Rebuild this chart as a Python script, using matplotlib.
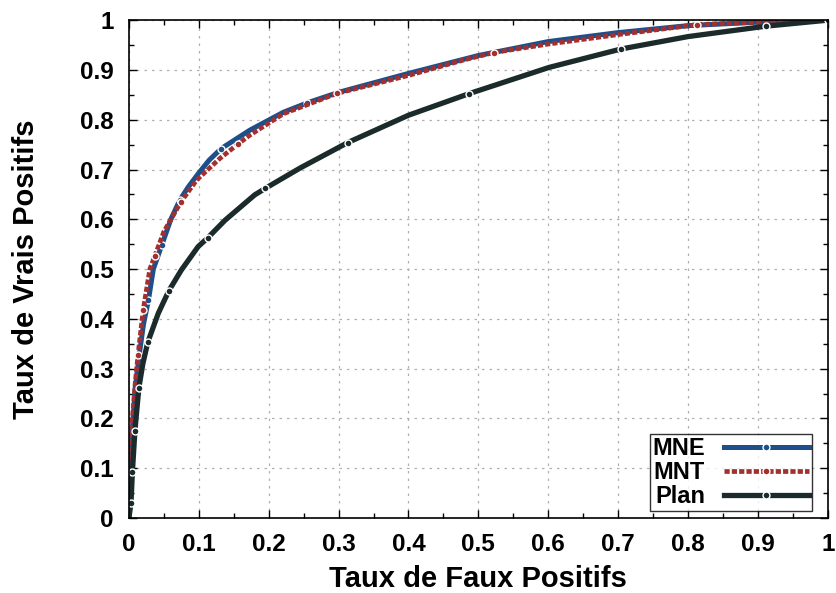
import matplotlib
matplotlib.use("Agg")
import matplotlib.pyplot as plt
from matplotlib.ticker import MultipleLocator

plt.rcParams['font.family'] = ['Liberation Sans', 'DejaVu Sans']
plt.rcParams['font.weight'] = 'bold'

# courbes ROC
mne_fpr = [0, 0.002, 0.005, 0.009, 0.015, 0.021, 0.028, 0.035, 0.047, 0.06, 0.073, 0.085,
           0.1, 0.115, 0.132, 0.173, 0.221, 0.2555, 0.3, 0.4, 0.5, 0.6, 0.7, 0.8, 0.9, 1.0]
mne_tpr = [0, 0.09, 0.18, 0.26, 0.33, 0.39, 0.438, 0.5, 0.548, 0.6, 0.639, 0.665,
           0.693, 0.719, 0.742, 0.779, 0.815, 0.834, 0.855, 0.893, 0.929, 0.957, 0.975, 0.989, 0.996, 1.0]
mne_marks = [6, 8, 10, 14, 17]

mnt_fpr = [0, 0.002, 0.005, 0.009, 0.013, 0.0205, 0.03, 0.037, 0.05, 0.0745, 0.097, 0.13,
           0.156, 0.173, 0.221, 0.298, 0.4, 0.479, 0.522, 0.6, 0.7, 0.813, 0.9, 1.0]
mnt_tpr = [0, 0.1, 0.2, 0.27, 0.327, 0.418, 0.5, 0.526, 0.575, 0.635, 0.679, 0.722,
           0.751, 0.769, 0.812, 0.853, 0.889, 0.92, 0.935, 0.952, 0.971, 0.991, 0.996, 1.0]
mnt_marks = [4, 5, 7, 9, 12, 15, 18, 21]

plan_fpr = [0, 0.003, 0.005, 0.0086, 0.0143, 0.02, 0.027, 0.042, 0.057, 0.075, 0.099, 0.113,
            0.1375, 0.16, 0.18, 0.195, 0.245, 0.313, 0.4, 0.486, 0.601, 0.704, 0.8, 0.912, 1.0]
plan_tpr = [0, 0.03, 0.092, 0.175, 0.262, 0.31, 0.353, 0.411, 0.456, 0.498, 0.545, 0.563,
            0.598, 0.625, 0.649, 0.662, 0.703, 0.754, 0.809, 0.852, 0.905, 0.942, 0.967, 0.988, 1.0]
plan_marks = [1, 2, 3, 4, 6, 8, 11, 15, 17, 19, 21, 23, 24]

fig = plt.figure(figsize=(8.37, 5.93), dpi=100)
ax = fig.add_axes([0.154, 0.1265, 0.835, 0.8395])

mk = dict(marker='o', markersize=5, markeredgecolor='white', markeredgewidth=1)
ax.plot(mne_fpr, mne_tpr, color='#1d4f8a', lw=3.6, markevery=mne_marks,
        markerfacecolor='#1d4f8a', label='MNE', **mk)
ax.plot(mnt_fpr, mnt_tpr, color='#a3302e', lw=3.4, linestyle=(0, (1.1, 0.45)),
        markevery=mnt_marks, markerfacecolor='#a3302e', label='MNT', **mk)
ax.plot(plan_fpr, plan_tpr, color='#1b2b2b', lw=3.8, markevery=plan_marks,
        markerfacecolor='#1b2b2b', label='Plan', **mk)

ax.set_xlim(0, 1)
ax.set_ylim(0, 1)
ax.xaxis.set_major_locator(MultipleLocator(0.1))
ax.yaxis.set_major_locator(MultipleLocator(0.1))
ax.xaxis.set_minor_locator(MultipleLocator(0.05))
ax.yaxis.set_minor_locator(MultipleLocator(0.05))
fmt = lambda v, p: '%g' % round(v, 2)
ax.xaxis.set_major_formatter(fmt)
ax.yaxis.set_major_formatter(fmt)
ax.tick_params(which='both', direction='in', top=True, right=True, width=1)
ax.tick_params(which='major', length=6, labelsize=17.5, pad=11)
ax.tick_params(which='minor', length=3.5)
for t in ax.get_xticklabels() + ax.get_yticklabels():
    t.set_fontweight('bold')
ax.grid(True, which='major', linestyle=(0, (2, 4)), color='#b0b0b0', lw=0.9)
for s in ax.spines.values():
    s.set_linewidth(1.2)

ax.set_xlabel('Taux de Faux Positifs', fontsize=21, fontweight='bold')
ax.set_ylabel('Taux de Vrais Positifs', fontsize=21, fontweight='bold')
ax.xaxis.set_label_coords(0.5, -0.095)
ax.yaxis.set_label_coords(-0.127, 0.5)

leg = ax.legend(loc='lower right', bbox_to_anchor=(0.977, 0.014), markerfirst=False,
                fontsize=17, frameon=True, fancybox=False, edgecolor='black',
                handlelength=3.6, borderpad=0.12, labelspacing=0.05,
                handletextpad=0.8, borderaxespad=0)
leg.get_frame().set_linewidth(1.0)
for t in leg.get_texts():
    t.set_fontweight('bold')

fig.savefig('out.png', dpi=100)
